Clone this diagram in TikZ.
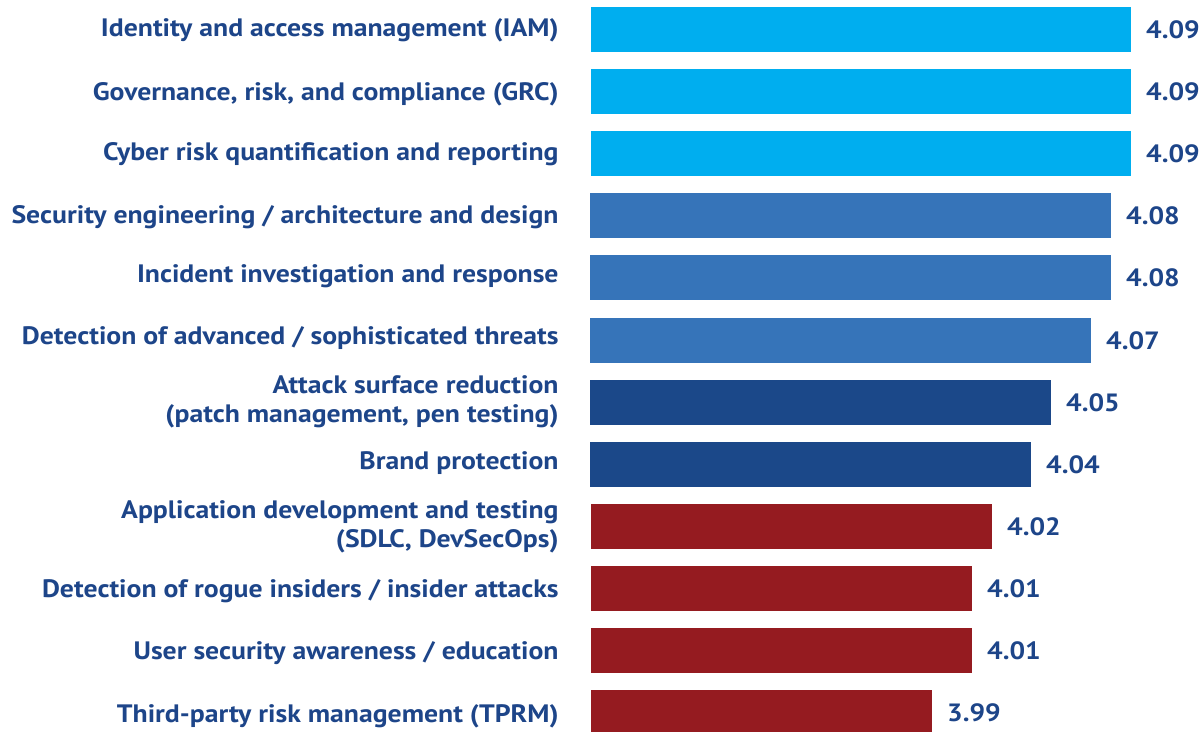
\documentclass[tikz,border=0pt]{standalone}
\usepackage{fontspec}
\setmainfont{PT Sans}[FakeStretch=1.1]
\usetikzlibrary{calc}
\definecolor{cyanb}{RGB}{0,174,239}
\definecolor{midb}{RGB}{54,116,185}
\definecolor{darkb}{RGB}{27,72,137}
\definecolor{redb}{RGB}{149,27,32}
\definecolor{txt}{RGB}{29,69,137}
\begin{document}
\begin{tikzpicture}[x=0.5pt,y=-0.5pt,
  bar/.style={anchor=north west, inner sep=0pt, minimum height=22.5pt, draw=none},
  lab/.style={anchor=base east, inner sep=0pt, text=txt, font=\bfseries\fontsize{12.6}{14.5}\selectfont, align=right},
  val/.style={anchor=west, inner sep=0pt, text=txt, font=\bfseries\fontsize{12.5}{15}\selectfont}]
\useasboundingbox (0,0) rectangle (1200,732);
% bars
\node[bar, fill=cyanb, minimum width=270pt]   (b1)  at (591,7) {};
\node[bar, fill=cyanb, minimum width=270pt]   (b2)  at (591,69) {};
\node[bar, fill=cyanb, minimum width=270pt]   (b3)  at (591,131) {};
\node[bar, fill=midb,  minimum width=260.5pt] (b4)  at (590,193) {};
\node[bar, fill=midb,  minimum width=260.5pt] (b5)  at (590,255) {};
\node[bar, fill=midb,  minimum width=250.5pt] (b6)  at (590,318) {};
\node[bar, fill=darkb, minimum width=230.5pt] (b7)  at (590,380) {};
\node[bar, fill=darkb, minimum width=220.5pt] (b8)  at (590,442) {};
\node[bar, fill=redb,  minimum width=200.5pt] (b9)  at (591,504) {};
\node[bar, fill=redb,  minimum width=190.5pt] (b10) at (591,566) {};
\node[bar, fill=redb,  minimum width=190.5pt] (b11) at (591,628) {};
\node[bar, fill=redb,  minimum width=170.5pt] (b12) at (591,690) {};
% values
\foreach \i/\v in {1/4.09,2/4.09,3/4.09,4/4.08,5/4.08,6/4.07,7/4.05,8/4.04,9/4.02,10/4.01,11/4.01,12/3.99}{
  \node[val] (v\i) at ($(b\i.east)+(14,0)$) {\v};
}
% labels
\node[lab] (l1)  at (559,37)  {Identity and access management (IAM)};
\node[lab] (l2)  at (559,101) {Governance, risk, and compliance (GRC)};
\node[lab] (l3)  at (559,161) {Cyber risk quantification and reporting};
\node[lab] (l4)  at (559,224) {Security engineering / architecture and design};
\node[lab] (l5)  at (559,283) {Incident investigation and response};
\node[lab] (l6)  at (559,345) {Detection of advanced / sophisticated threats};
\node[lab] (l7)  at (559,423) {Attack surface reduction\\(patch management, pen testing)};
\node[lab] (l8)  at (559,470) {Brand protection};
\node[lab] (l9)  at (559,548) {Application development and testing\\(SDLC, DevSecOps)};
\node[lab] (l10) at (559,597) {Detection of rogue insiders / insider attacks};
\node[lab] (l11) at (559,659) {User security awareness / education};
\node[lab] (l12) at (559,722) {Third-party risk management (TPRM)};
\end{tikzpicture}
\end{document}
